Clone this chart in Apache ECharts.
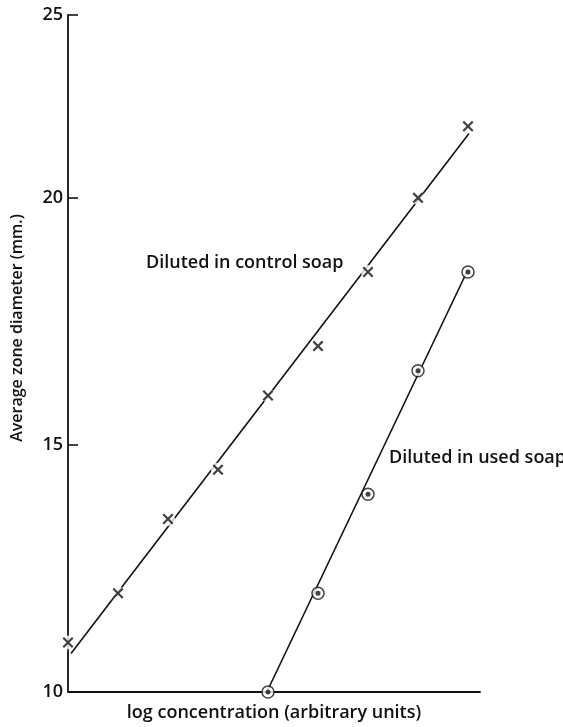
<!DOCTYPE html>
<html>
<head>
<meta charset="utf-8">
<script src="https://cdn.jsdelivr.net/npm/echarts@6/dist/echarts.min.js"></script>
<style>
    html, body { margin: 0; padding: 0; width: 100%; height: 100%; background: #fff; }
    #main { width: 563px; height: 727px; }
</style>
</head>
<body>
<div id="main"></div>
<script>
    // points (x = log concentration step, y = zone diameter mm)
    var xControl = [0, 1, 2, 3, 4, 5, 6, 7, 8];
    var yControl = [11, 12, 13.5, 14.5, 16, 17, 18.5, 20, 21.45];
    var xUsed = [4, 5, 6, 7, 8];
    var yUsed = [10, 12, 14, 16.5, 18.5];

    // fitted lines (end points)
    var fitControl = [[0.06, 10.78], [8.02, 21.3]];
    var fitUsed = [[4, 10.05], [8, 18.55]];

    // y tick labels; the top tick sits at the axis end, labelled 25
    var yTicks = [10, 15, 20, 23.7];
    var yTopLabel = '25';

    var FONT = '"Open Sans"';
    var crossPath = 'path://M0,1.4L1.4,0L5,3.6L8.6,0L10,1.4L6.4,5L10,8.6L8.6,10L5,6.4L1.4,10L0,8.6L3.6,5Z';

    function pts(xs, ys) {
        return xs.map(function (x, i) { return [x, ys[i]]; });
    }

    var chart = echarts.init(document.getElementById('main'));
    chart.setOption({
        animation: false,
        backgroundColor: '#fff',
        grid: { left: 68, right: 83, top: 15, bottom: 30 },
        xAxis: {
            type: 'value',
            min: 0,
            max: 8.24,
            name: 'log concentration (arbitrary units)',
            nameLocation: 'middle',
            nameGap: 12,
            nameTextStyle: { fontFamily: FONT, fontSize: 18, fontWeight: 600, color: '#111' },
            axisLine: { lineStyle: { color: '#111', width: 1.8 } },
            axisTick: { show: false },
            axisLabel: { show: false },
            splitLine: { show: false }
        },
        yAxis: {
            type: 'value',
            min: 10,
            max: 23.7,
            axisLine: { show: true, lineStyle: { color: '#111', width: 1.8 } },
            axisTick: { show: true, inside: true, length: 10, customValues: yTicks.slice(1),
                        lineStyle: { color: '#111', width: 1.6 } },
            axisLabel: {
                customValues: yTicks,
                fontFamily: FONT, fontSize: 18, fontWeight: 600, color: '#111', margin: 5,
                formatter: function (v) { return v > 21 ? yTopLabel : String(v); }
            },
            splitLine: { show: false }
        },
        graphic: [
            { type: 'text', x: 17, y: 328, rotation: Math.PI / 2,
              style: { text: 'Average zone diameter (mm.)', font: '600 16px ' + FONT, fill: '#111',
                       align: 'center', verticalAlign: 'middle' } },
            { type: 'text', left: 146, top: 254,
              style: { text: 'Diluted in control soap', font: '600 18px ' + FONT, fill: '#111' } },
            { type: 'text', left: 389, top: 449,
              style: { text: 'Diluted in used soap', font: '600 18px ' + FONT, fill: '#111' } }
        ],
        series: [
            { type: 'line', data: fitControl, showSymbol: false, z: 2,
              lineStyle: { color: '#111', width: 1.6 } },
            { type: 'line', data: fitUsed, showSymbol: false, z: 2,
              lineStyle: { color: '#111', width: 1.6 } },
            // white halo behind crosses gives the small gap in the line
            { type: 'scatter', data: pts(xControl, yControl), symbol: 'circle', symbolSize: 14, z: 3,
              itemStyle: { color: '#fff' } },
            { type: 'scatter', data: pts(xControl, yControl), symbol: crossPath, symbolSize: 11, z: 4,
              itemStyle: { color: '#111' } },
            { type: 'scatter', data: pts(xUsed, yUsed), symbol: 'circle', symbolSize: 12, z: 4,
              itemStyle: { color: '#fff', borderColor: '#111', borderWidth: 1.5 } },
            { type: 'scatter', data: pts(xUsed, yUsed), symbol: 'circle', symbolSize: 5, z: 5,
              itemStyle: { color: '#111' } }
        ]
    });
</script>
</body>
</html>
